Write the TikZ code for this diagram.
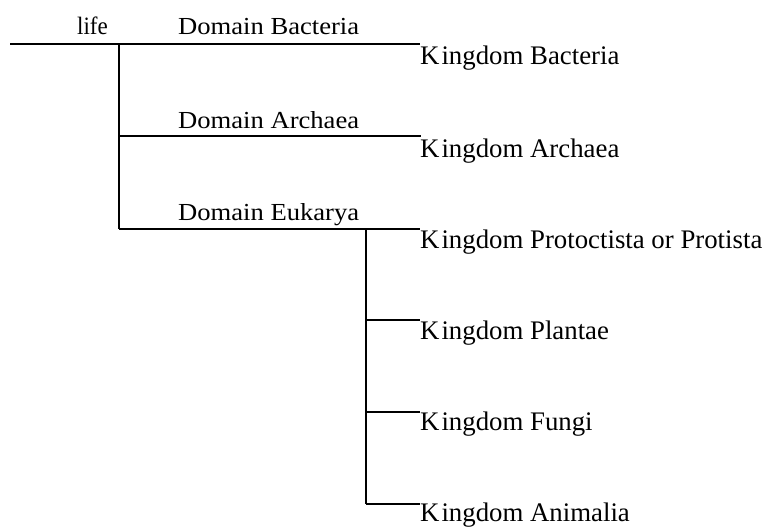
\documentclass[tikz,border=0pt]{standalone}
\usepackage{fontspec}
\setmainfont{Liberation Serif}
\begin{document}
\begin{tikzpicture}[x=1pt,y=-1pt,
  branch/.style={line width=1.7pt},
  kingdomlbl/.style={anchor=base west,inner sep=0pt,font=\fontsize{26.8}{30}\selectfont},
  domainlbl/.style={anchor=base west,inner sep=0pt,font=\fontsize{26.6}{30}\selectfont},
  rootlbl/.style={anchor=base west,inner sep=0pt,font=\fontsize{25}{28}\selectfont}]
\useasboundingbox (0,0) rectangle (767,527);
% junction coordinates
\coordinate (start) at (10,44);
\coordinate (j1) at (119,44);
\coordinate (j2) at (119,136);
\coordinate (j3) at (119,229);
\coordinate (e1) at (366,229);
\coordinate (e2) at (366,320);
\coordinate (e3) at (366,412);
\coordinate (e4) at (366,504);
\coordinate (kb) at (420,44);
\coordinate (ka) at (421,136);
\coordinate (kp) at (420,229);
\coordinate (kl) at (420,320);
\coordinate (kf) at (420,412);
\coordinate (kn) at (420,504);
% labels
\node[rootlbl] (life) at (77,35) {\scalebox{0.92}[1]{life}};
\node[domainlbl] (db) at (178,35) {\scalebox{1}[0.92]{Domain Bacteria}};
\node[domainlbl] (da) at (178,128) {\scalebox{1}[0.92]{Domain Archaea}};
\node[domainlbl] (de) at (178,220) {\scalebox{1}[0.92]{Domain Eukarya}};
\node[kingdomlbl] (tb) at (420,64) {K\kern2pt ingdom Bacteria};
\node[kingdomlbl] (ta) at (420,157) {K\kern2pt ingdom Archaea};
\node[kingdomlbl] (tp) at (420,248) {K\kern2pt ingdom Protoctista or Protista};
\node[kingdomlbl] (tl) at (420,339) {K\kern2pt ingdom Plantae};
\node[kingdomlbl] (tf) at (420,430) {K\kern2pt ingdom Fungi};
\node[kingdomlbl] (tn) at (420,521) {K\kern2pt ingdom Animalia};
% tree
\draw[branch] (start) -- (j1) -- (kb);
\draw[branch] (j1) -- (j3);
\draw[branch] (j2) -- (ka);
\draw[branch] (j3) -- (e1) -- (kp);
\draw[branch] (e1) -- (e4);
\draw[branch] (e2) -- (kl);
\draw[branch] (e3) -- (kf);
\draw[branch] (e4) -- (kn);
\end{tikzpicture}
\end{document}
